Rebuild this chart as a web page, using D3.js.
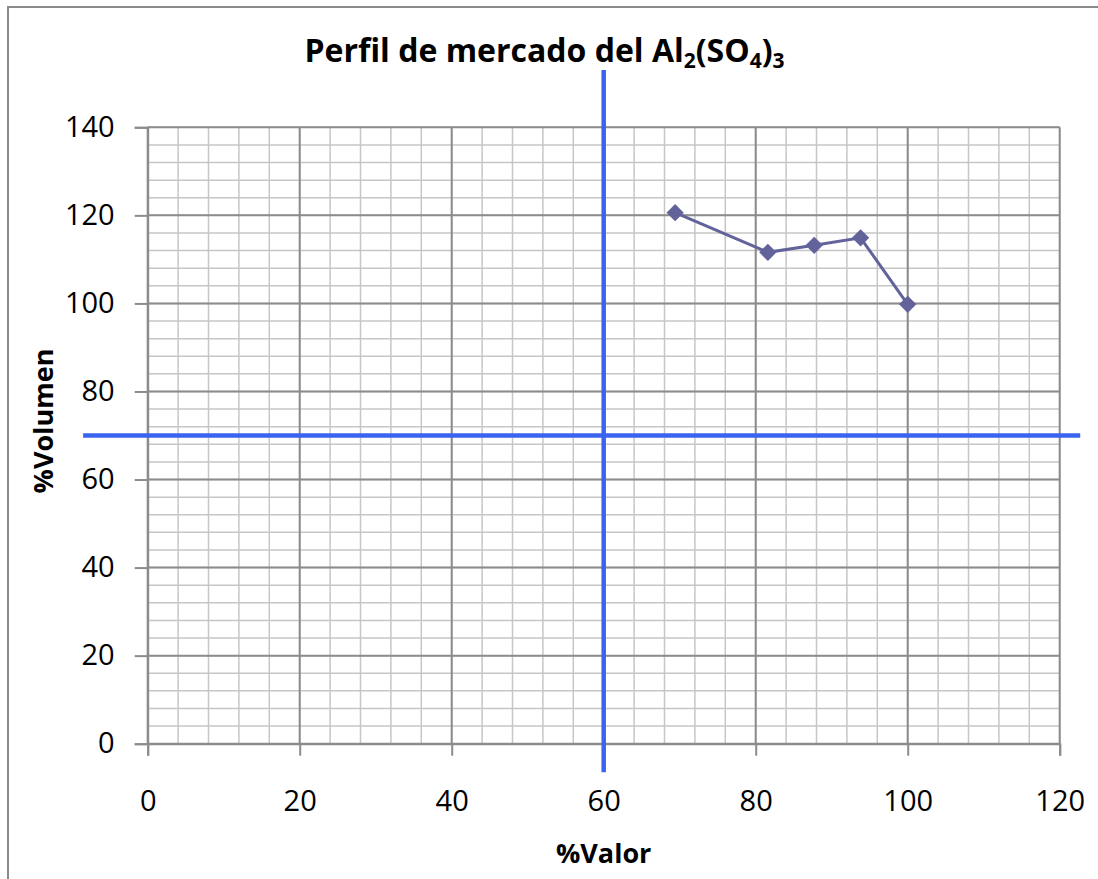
<!DOCTYPE html>
<html lang="es">
<head>
<meta charset="utf-8">
<title>Perfil de mercado</title>
<style>
  body { margin: 0; background: #fff; }
  svg { display: block; font-family: "Open Sans", sans-serif; }
</style>
<script src="https://d3js.org/d3.v7.min.js"></script>
</head>
<body>
<script>
// values
let valor = [69.4, 81.6, 87.7, 93.8, 100]
let volumen = [120.6, 111.6, 113.2, 114.9, 99.8]
let xTicks = [0, 20, 40, 60, 80, 100, 120]
let yTicks = [0, 20, 40, 60, 80, 100, 120, 140]
let xMinor = d3.range(0, 121, 4)
let yMinor = d3.range(0, 141, 4)
// quadrant dividers (value, and the span they are drawn over)
let refX = 60, refXSpan = [-6.5, 153]
let refY = 70, refYSpan = [-8.5, 122.7]

let width = 1098, height = 879

let svg = d3.select("body").append("svg")
    .attr("width", width)
    .attr("height", height)

// chart frame
svg.append("rect")
    .attr("x", 8).attr("y", 7)
    .attr("width", 1300).attr("height", 1000)
    .attr("fill", "#fff")
    .attr("stroke", "#8a8a8a")
    .attr("stroke-width", 2)

let x = d3.scaleLinear().domain([0, 120]).range([147.7, 1059.7])
let y = d3.scaleLinear().domain([0, 140]).range([743.7, 127.3])

// minor grid
let grid = svg.append("g")
grid.selectAll(".vminor").data(xMinor).join("line")
    .attr("x1", d => x(d)).attr("x2", d => x(d))
    .attr("y1", y(0)).attr("y2", y(140))
    .attr("stroke", "#c6c6c6").attr("stroke-width", 1.5)
grid.selectAll(".hminor").data(yMinor).join("line")
    .attr("y1", d => y(d)).attr("y2", d => y(d))
    .attr("x1", x(0)).attr("x2", x(120))
    .attr("stroke", "#c6c6c6").attr("stroke-width", 1.5)

// major grid
grid.selectAll(".vmajor").data(xTicks).join("line")
    .attr("x1", d => x(d)).attr("x2", d => x(d))
    .attr("y1", y(0)).attr("y2", y(140))
    .attr("stroke", "#8c8c8c").attr("stroke-width", 2)
grid.selectAll(".hmajor").data(yTicks).join("line")
    .attr("y1", d => y(d)).attr("y2", d => y(d))
    .attr("x1", x(0)).attr("x2", x(120))
    .attr("stroke", "#8c8c8c").attr("stroke-width", 2)

// axes
let xAxis = svg.append("g")
    .attr("transform", `translate(0, ${y(0)})`)
    .call(d3.axisBottom(x).tickValues(xTicks).tickSize(12).tickPadding(35))
let yAxis = svg.append("g")
    .attr("transform", `translate(${x(0)}, 0)`)
    .call(d3.axisLeft(y).tickValues(yTicks).tickSize(13).tickPadding(20))

for (let ax of [xAxis, yAxis]) {
    ax.select(".domain").attr("stroke", "#8c8c8c").attr("stroke-width", 2)
    ax.selectAll(".tick line").attr("stroke", "#8c8c8c").attr("stroke-width", 2)
    ax.selectAll(".tick text")
        .attr("font-family", "'Open Sans', sans-serif")
        .attr("font-size", 29)
        .attr("fill", "#000")
}

// quadrant lines
svg.append("line")
    .attr("x1", x(refX)).attr("x2", x(refX))
    .attr("y1", y(refXSpan[0])).attr("y2", y(refXSpan[1]))
    .attr("stroke", "#3a64f0").attr("stroke-width", 4.5)
svg.append("line")
    .attr("x1", x(refYSpan[0])).attr("x2", x(refYSpan[1]))
    .attr("y1", y(refY)).attr("y2", y(refY))
    .attr("stroke", "#3a64f0").attr("stroke-width", 4.5)

// series
let pts = valor.map((v, i) => [v, volumen[i]])
svg.append("path")
    .datum(pts)
    .attr("d", d3.line().x(d => x(d[0])).y(d => y(d[1])))
    .attr("fill", "none")
    .attr("stroke", "#63639b")
    .attr("stroke-width", 3)

svg.selectAll(".marker").data(pts).join("path")
    .attr("d", d3.symbol().type(d3.symbolSquare).size(150))
    .attr("transform", d => `translate(${x(d[0])}, ${y(d[1])}) rotate(45)`)
    .attr("fill", "#63639b")

// title
let title = svg.append("text")
    .attr("x", 544.5).attr("y", 61.7)
    .attr("text-anchor", "middle")
    .attr("font-weight", "bold")
    .attr("font-size", 32)
title.append("tspan").text("Perfil de mercado del Al")
title.append("tspan").text("2").attr("font-size", 21).attr("dy", 6)
title.append("tspan").text("(SO").attr("dy", -6)
title.append("tspan").text("4").attr("font-size", 21).attr("dy", 6)
title.append("tspan").text(")").attr("dy", -6)
title.append("tspan").text("3").attr("font-size", 21).attr("dy", 6)

// axis titles
svg.append("text")
    .attr("x", x(60)).attr("y", 863)
    .attr("text-anchor", "middle")
    .attr("font-weight", "bold")
    .attr("font-size", 27)
    .text("%Valor")

svg.append("text")
    .attr("transform", "translate(53, 421) rotate(-90)")
    .attr("text-anchor", "middle")
    .attr("font-weight", "bold")
    .attr("font-size", 27)
    .text("%Volumen")
</script>
</body>
</html>
